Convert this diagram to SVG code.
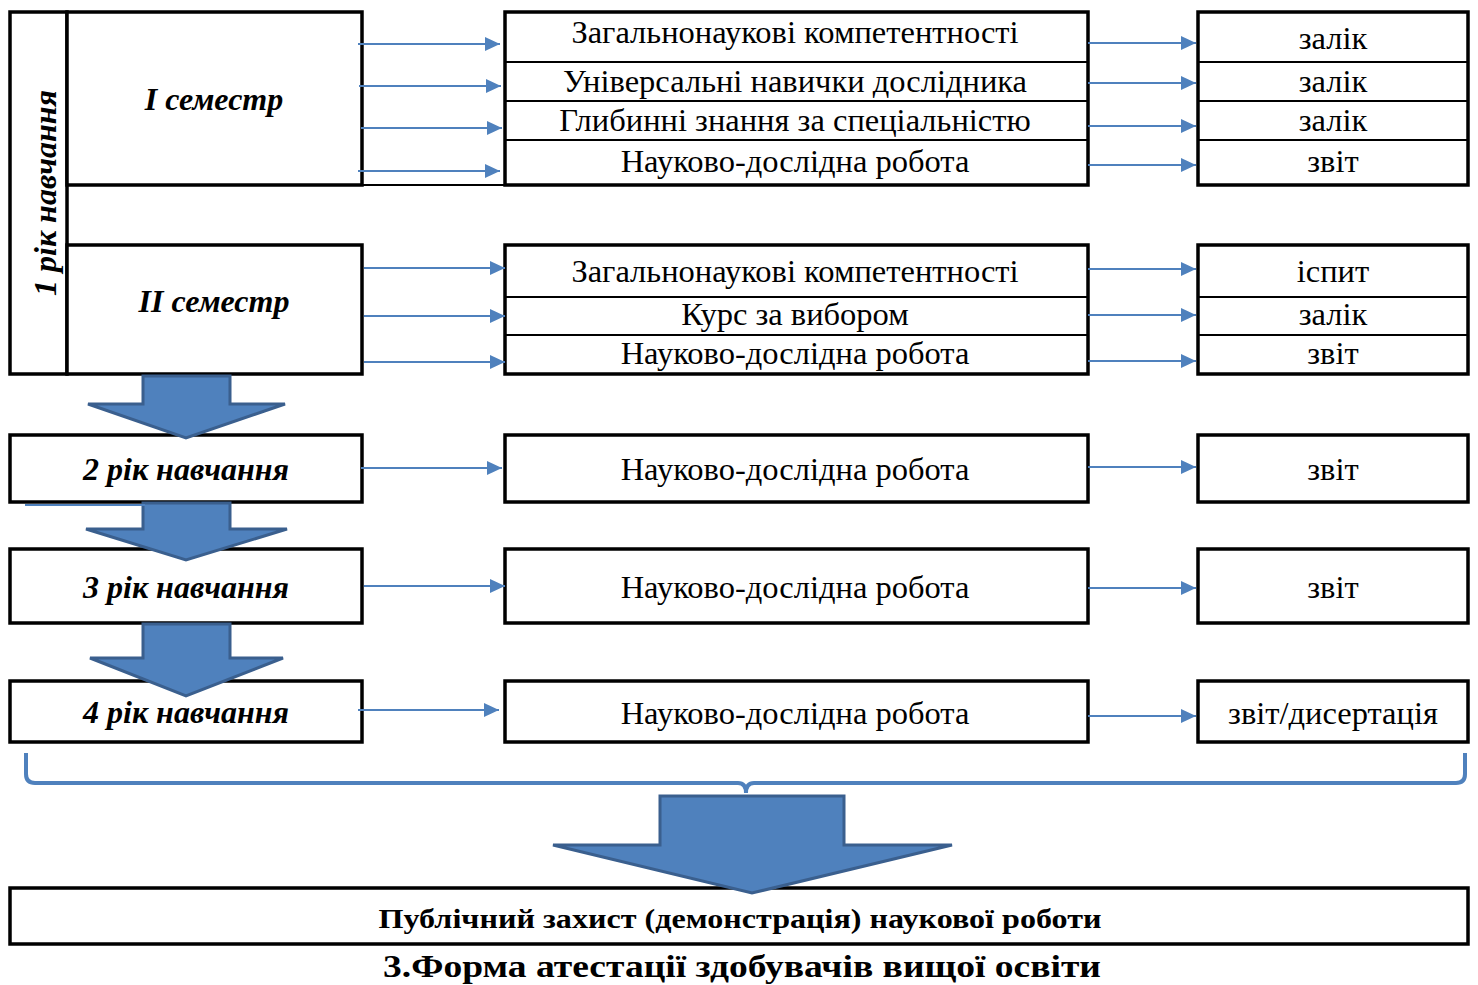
<svg xmlns="http://www.w3.org/2000/svg" width="1478" height="985" viewBox="0 0 1478 985">
<defs>
<style>
.box{fill:#fff;stroke:#000;stroke-width:3.5}
.div{stroke:#000;stroke-width:2;fill:none}
.t{font-family:"Liberation Serif","Times New Roman",serif;font-size:32.5px;fill:#000;text-anchor:middle}
.lb{font-family:"Liberation Serif","Times New Roman",serif;font-size:32px;font-weight:bold;font-style:italic;fill:#000;text-anchor:middle}
.bt{font-family:"Liberation Serif","Times New Roman",serif;font-size:28px;font-weight:bold;fill:#000;text-anchor:middle}
.ti{font-family:"Liberation Serif","Times New Roman",serif;font-size:32px;font-weight:bold;fill:#000;text-anchor:middle}
.con{stroke:#4F81BD;stroke-width:2;fill:none;marker-end:url(#ah)}
.big{fill:#4F81BD;stroke:#3A5F8E;stroke-width:3;stroke-linejoin:miter}
.brace{stroke:#4F81BD;stroke-width:4;fill:none}
</style>
<marker id="ah" markerUnits="userSpaceOnUse" markerWidth="16" markerHeight="16" refX="15" refY="7" orient="auto">
<path d="M0,0 L15,7 L0,14 Z" fill="#4F81BD"/>
</marker>
</defs>
<rect width="1478" height="985" fill="#fff"/>

<g id="year1">
<rect class="box" x="10" y="12" width="57" height="362"/>
<text class="lb" transform="translate(56,193) rotate(-90)">1 рік навчання</text>
</g>
<g id="sem1">
<rect class="box" x="67" y="12" width="295" height="173"/>
<line class="div" x1="362" y1="185" x2="505" y2="185"/>
<text class="lb" x="214" y="110">I семестр</text>
</g>
<g id="sem2">
<rect class="box" x="67" y="245" width="295" height="129"/>
<text class="lb" x="214" y="312">II семестр</text>
</g>

<g id="mid1">
<rect class="box" x="505" y="12" width="583" height="173"/>
<line class="div" x1="505" y1="62" x2="1088" y2="62"/>
<line class="div" x1="505" y1="101" x2="1088" y2="101"/>
<line class="div" x1="505" y1="140" x2="1088" y2="140"/>
<text class="t" x="795" y="43">Загальнонаукові компетентності</text>
<text class="t" x="795" y="92">Універсальні навички дослідника</text>
<text class="t" x="795" y="131">Глибинні знання за спеціальністю</text>
<text class="t" x="795" y="172">Науково-дослідна робота</text>
</g>
<g id="res1">
<rect class="box" x="1198" y="12" width="270" height="173"/>
<line class="div" x1="1198" y1="62" x2="1468" y2="62"/>
<line class="div" x1="1198" y1="101" x2="1468" y2="101"/>
<line class="div" x1="1198" y1="140" x2="1468" y2="140"/>
<text class="t" x="1333" y="49">залік</text>
<text class="t" x="1333" y="92">залік</text>
<text class="t" x="1333" y="131">залік</text>
<text class="t" x="1333" y="172">звіт</text>
</g>

<g id="mid2">
<rect class="box" x="505" y="245" width="583" height="129"/>
<line class="div" x1="505" y1="297" x2="1088" y2="297"/>
<line class="div" x1="505" y1="335" x2="1088" y2="335"/>
<text class="t" x="795" y="282">Загальнонаукові компетентності</text>
<text class="t" x="795" y="325">Курс за вибором</text>
<text class="t" x="795" y="364">Науково-дослідна робота</text>
</g>
<g id="res2">
<rect class="box" x="1198" y="245" width="270" height="129"/>
<line class="div" x1="1198" y1="297" x2="1468" y2="297"/>
<line class="div" x1="1198" y1="335" x2="1468" y2="335"/>
<text class="t" x="1333" y="282">іспит</text>
<text class="t" x="1333" y="325">залік</text>
<text class="t" x="1333" y="364">звіт</text>
</g>

<g id="year2">
<rect class="box" x="10" y="435" width="352" height="67"/>
<text class="lb" x="186" y="480">2 рік навчання</text>
</g>
<g id="mid3">
<rect class="box" x="505" y="435" width="583" height="67"/>
<text class="t" x="795" y="480">Науково-дослідна робота</text>
</g>
<g id="res3">
<rect class="box" x="1198" y="435" width="270" height="67"/>
<text class="t" x="1333" y="480">звіт</text>
</g>

<g id="year3">
<rect class="box" x="10" y="549" width="352" height="74"/>
<text class="lb" x="186" y="598">3 рік навчання</text>
</g>
<g id="mid4">
<rect class="box" x="505" y="549" width="583" height="74"/>
<text class="t" x="795" y="598">Науково-дослідна робота</text>
</g>
<g id="res4">
<rect class="box" x="1198" y="549" width="270" height="74"/>
<text class="t" x="1333" y="598">звіт</text>
</g>

<g id="year4">
<rect class="box" x="10" y="681" width="352" height="61"/>
<text class="lb" x="186" y="723">4 рік навчання</text>
</g>
<g id="mid5">
<rect class="box" x="505" y="681" width="583" height="61"/>
<text class="t" x="795" y="724">Науково-дослідна робота</text>
</g>
<g id="res5">
<rect class="box" x="1198" y="681" width="270" height="61"/>
<text class="t" x="1333" y="724">звіт/дисертація</text>
</g>

<g id="final">
<rect class="box" x="10" y="888" width="1458" height="56"/>
<text class="bt" x="740" y="928" textLength="723" lengthAdjust="spacingAndGlyphs">Публічний захист (демонстрація) наукової роботи</text>
</g>

<g id="flow-arrows">
<path class="big" d="M143,376 L230,376 L230,404 L285,404 L186,438 L88,404 L143,404 Z"/>
<path class="big" d="M143,503 L230,503 L230,529 L287,529 L186,560 L86,529 L143,529 Z"/>
<path class="big" d="M143,624 L230,624 L230,658 L283,658 L186,696 L90,658 L143,658 Z"/>
<path class="big" d="M660,796 L844,796 L844,845 L952,845 L752,893 L553,845 L660,845 Z"/>
</g>

<g id="connectors">
<line class="con" x1="358" y1="44" x2="500" y2="44"/>
<line class="con" x1="359" y1="86" x2="501" y2="86"/>
<line class="con" x1="361" y1="128" x2="502" y2="128"/>
<line class="con" x1="358" y1="171" x2="500" y2="171"/>
<line class="con" x1="364" y1="268" x2="505" y2="268"/>
<line class="con" x1="364" y1="316" x2="505" y2="316"/>
<line class="con" x1="364" y1="362" x2="505" y2="362"/>
<line class="con" x1="1088" y1="43" x2="1196" y2="43"/>
<line class="con" x1="1088" y1="83" x2="1196" y2="83"/>
<line class="con" x1="1088" y1="126" x2="1196" y2="126"/>
<line class="con" x1="1088" y1="165" x2="1196" y2="165"/>
<line class="con" x1="1088" y1="269" x2="1196" y2="269"/>
<line class="con" x1="1088" y1="315" x2="1196" y2="315"/>
<line class="con" x1="1088" y1="361" x2="1196" y2="361"/>
<line class="con" x1="361" y1="468" x2="502" y2="468"/>
<line class="con" x1="1088" y1="467" x2="1196" y2="467"/>
<line class="con" x1="364" y1="586" x2="505" y2="586"/>
<line class="con" x1="1088" y1="588" x2="1196" y2="588"/>
<line class="con" x1="358" y1="710" x2="499" y2="710"/>
<line class="con" x1="1088" y1="716" x2="1196" y2="716"/>
<line x1="25" y1="505" x2="145" y2="505" stroke="#4F81BD" stroke-width="2"/>
<path class="brace" d="M26,753 L26,774 Q26,783 35,783 L738,783 Q746,783 746,793 Q746,783 754,783 L1456,783 Q1465,783 1465,774 L1465,753"/>
</g>

<text class="ti" x="742" y="977" textLength="718" lengthAdjust="spacingAndGlyphs">3.Форма атестації здобувачів вищої освіти</text>
</svg>
